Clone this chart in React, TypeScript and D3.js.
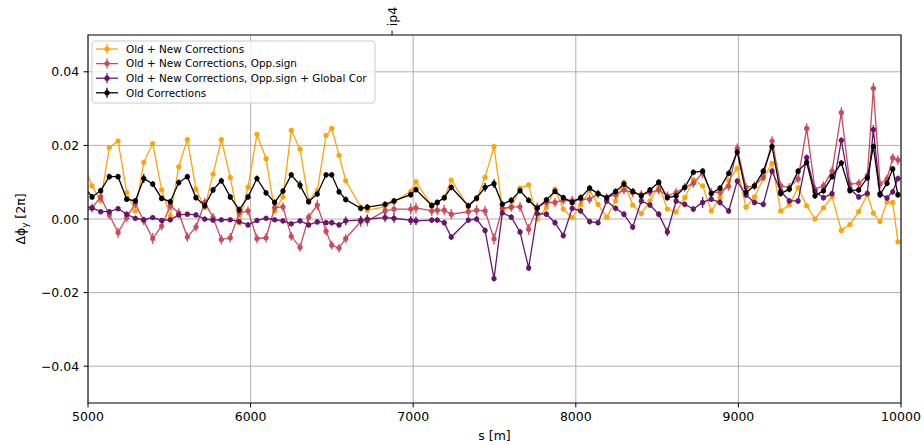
import React from 'react';
import * as d3 from 'd3';

// BPM longitudinal positions [m]
const S = [
  4972, 5025, 5078, 5131, 5185, 5238, 5291, 5343, 5398, 5453,
  5506, 5558, 5611, 5664, 5718, 5769, 5820, 5875, 5930, 5984,
  6039, 6095, 6148, 6199, 6250, 6304, 6357, 6410, 6464, 6499,
  6544, 6585, 6677, 6718, 6827, 6882, 6985, 7017, 7114, 7148,
  7191, 7234, 7339, 7390, 7442, 7497, 7548, 7603, 7657, 7710,
  7763, 7819, 7872, 7923, 7978, 8030, 8085, 8137, 8190, 8245,
  8296, 8350, 8403, 8456, 8510, 8563, 8617, 8670, 8723, 8780,
  8833, 8887, 8940, 8993, 9047, 9099, 9153, 9207, 9260, 9313,
  9367, 9420, 9471, 9523, 9576, 9633, 9686, 9740, 9793, 9830,
  9871, 9914, 9949, 9981,
];

const ORANGE_VALUES = [
  0.015, 0.009, 0.0049, 0.0194, 0.0212, 0.0072, 0.0022, 0.0154, 0.0205, 0.0079,
  0.0008, 0.0142, 0.0216, 0.0081, 0.0031, 0.0122, 0.0216, 0.0113, -0.001, 0.0086,
  0.023, 0.0164, 0.0022, 0.006, 0.0241, 0.019, 0.0049, 0.0077, 0.0227, 0.0246,
  0.0173, 0.0104, 0.0033, 0.0024, 0.0033, 0.0047, 0.0075, 0.0101, 0.0036, 0.0045,
  0.0057, 0.0106, 0.0033, 0.0054, 0.0113, 0.0197, 0.0027, 0.0031, 0.0084, 0.0093,
  0.0, 0.0031, 0.0081, 0.0027, 0.0004, 0.0038, 0.0077, 0.004, 0.0005, 0.0049,
  0.01, 0.0038, 0.0015, 0.0049, 0.009, 0.0027, 0.0019, 0.0058, 0.0107, 0.009,
  0.0022, 0.0058, 0.0105, 0.0137, 0.0032, 0.006, 0.011, 0.0151, 0.0022, 0.0038,
  0.0085, 0.0036, 0.0, 0.003, 0.006, -0.0031, -0.0015, 0.002, 0.0066, 0.0016,
  -0.0007, 0.0046, 0.0045, -0.0062,
];
const ORANGE_ERR = [
  0.0005, 0.0005, 0.0005, 0.0005, 0.0005, 0.0005, 0.0005, 0.0006, 0.0005, 0.0005,
  0.0005, 0.0005, 0.0005, 0.0005, 0.0005, 0.0005, 0.0005, 0.0005, 0.0005, 0.0005,
  0.0005, 0.0005, 0.0005, 0.0005, 0.0005, 0.0005, 0.0005, 0.0005, 0.0005, 0.0005,
  0.0005, 0.0005, 0.0006, 0.0006, 0.0006, 0.0006, 0.0006, 0.0006, 0.0006, 0.0006,
  0.0006, 0.0006, 0.0005, 0.0005, 0.0005, 0.0006, 0.0005, 0.0005, 0.0005, 0.0005,
  0.0005, 0.0005, 0.0005, 0.0005, 0.0005, 0.0005, 0.0005, 0.0005, 0.0005, 0.0005,
  0.0005, 0.0005, 0.0005, 0.0005, 0.0005, 0.0005, 0.0005, 0.0005, 0.0005, 0.0005,
  0.0005, 0.0005, 0.0005, 0.0005, 0.0005, 0.0005, 0.0005, 0.0005, 0.0005, 0.0005,
  0.0005, 0.0005, 0.0005, 0.0005, 0.0005, 0.0005, 0.0005, 0.0005, 0.0005, 0.0005,
  0.0005, 0.0005, 0.0005, 0.0005,
];

const RED_VALUES = [
  0.002, 0.003, 0.006, 0.0011, -0.0037, 0.0004, 0.0042, -0.0005, -0.0053, -0.0019,
  0.0036, 0.0017, -0.0049, -0.0022, 0.0045, 0.0004, -0.0056, -0.0051, 0.0017, 0.0022,
  -0.0053, -0.0051, 0.0031, 0.0033, -0.0047, -0.0077, 0.0005, 0.0038, -0.0033, -0.0071,
  -0.0079, -0.0053, -0.0007, -0.0005, 0.0022, 0.0027, 0.0027, 0.003, 0.0022, 0.0024,
  0.0024, 0.0013, 0.002, 0.0024, 0.0022, -0.0054, 0.0029, 0.0033, 0.0033, -0.0028,
  0.0033, 0.0045, 0.0045, 0.0051, 0.0051, 0.0054, 0.0054, 0.0068, 0.0058, 0.0066,
  0.0079, 0.0072, 0.0066, 0.0072, 0.0079, 0.0063, 0.0072, 0.0086, 0.0097, 0.0125,
  0.0072, 0.0073, 0.0089, 0.0192, 0.0086, 0.009, 0.0115, 0.0212, 0.009, 0.0086,
  0.0109, 0.0246, 0.0081, 0.009, 0.013, 0.0289, 0.0095, 0.0097, 0.0118, 0.0355,
  0.0095, 0.0109, 0.0166, 0.016,
];
const RED_ERR = [
  0.0012, 0.0012, 0.0012, 0.0012, 0.0014, 0.0012, 0.0012, 0.0012, 0.0015, 0.0012,
  0.0012, 0.0012, 0.0013, 0.0012, 0.0012, 0.0012, 0.0013, 0.0013, 0.0012, 0.0012,
  0.0013, 0.0013, 0.0012, 0.0012, 0.0012, 0.0012, 0.0012, 0.0014, 0.0012, 0.0012,
  0.0012, 0.0012, 0.0015, 0.0015, 0.0015, 0.0015, 0.0015, 0.0015, 0.0014, 0.0014,
  0.0014, 0.0014, 0.0014, 0.0014, 0.0014, 0.0015, 0.0013, 0.0013, 0.0013, 0.0015,
  0.0012, 0.0012, 0.0012, 0.0012, 0.0012, 0.0013, 0.0013, 0.0012, 0.0012, 0.0012,
  0.0012, 0.0012, 0.0012, 0.0012, 0.0012, 0.0012, 0.0012, 0.0012, 0.0012, 0.0014,
  0.0012, 0.0012, 0.0012, 0.0013, 0.0012, 0.0012, 0.0012, 0.0013, 0.0012, 0.0012,
  0.0012, 0.0014, 0.0012, 0.0012, 0.0012, 0.0015, 0.0012, 0.0012, 0.0012, 0.0015,
  0.0012, 0.0012, 0.0013, 0.0013,
];

const PURPLE_VALUES = [
  0.0035, 0.003, 0.002, 0.002, 0.0028, 0.0013, 0.0002, -0.0002, 0.0004, -0.0004,
  -0.0002, 0.0011, 0.0013, 0.0011, 0.0, -0.0003, -0.0002, -0.0002, -0.0007, -0.0016,
  -0.0004, 0.0002, -0.0002, -0.0005, -0.0013, -0.0005, -0.0016, -0.0008, -0.001, -0.001,
  -0.0016, -0.0005, -0.0003, 0.0, 0.0004, 0.0002, -0.0004, -0.0005, -0.0003, -0.0003,
  -0.001, -0.0049, -0.0003, 0.0, -0.0031, -0.0162, 0.0017, 0.0005, -0.0035, -0.0133,
  0.0015, 0.0013, -0.001, -0.0045, 0.0029, 0.0022, -0.0007, -0.001, 0.0049, 0.0029,
  0.0013, -0.0022, 0.0049, 0.0038, 0.0013, -0.0035, 0.0049, 0.004, 0.0027, 0.0045,
  0.0054, 0.0045, 0.0022, 0.0103, 0.0065, 0.0045, 0.004, 0.013, 0.0076, 0.0049,
  0.0049, 0.0167, 0.0075, 0.0058, 0.0069, 0.0214, 0.0082, 0.006, 0.007, 0.0243,
  0.0069, 0.0057, 0.0074, 0.011,
];
const PURPLE_ERR = [
  0.0007, 0.0007, 0.0007, 0.0007, 0.0007, 0.0007, 0.0007, 0.0007, 0.0007, 0.0007,
  0.0007, 0.0007, 0.0007, 0.0007, 0.0007, 0.0007, 0.0007, 0.0007, 0.0007, 0.0007,
  0.0007, 0.0007, 0.0007, 0.0007, 0.0007, 0.0007, 0.0007, 0.0007, 0.0007, 0.0007,
  0.0007, 0.0012, 0.0012, 0.0012, 0.0012, 0.0012, 0.0012, 0.0012, 0.0008, 0.0008,
  0.0008, 0.0008, 0.0008, 0.0008, 0.0008, 0.0008, 0.0008, 0.0008, 0.0008, 0.0008,
  0.0008, 0.0008, 0.0008, 0.0008, 0.0008, 0.0008, 0.0008, 0.0008, 0.0008, 0.0008,
  0.0008, 0.0008, 0.0008, 0.0008, 0.0008, 0.0012, 0.0008, 0.0008, 0.0008, 0.0015,
  0.0008, 0.0008, 0.0008, 0.0008, 0.0008, 0.0008, 0.0008, 0.0008, 0.0008, 0.0008,
  0.0008, 0.0008, 0.0008, 0.0008, 0.0008, 0.0008, 0.0008, 0.0008, 0.0008, 0.0012,
  0.0008, 0.0008, 0.0008, 0.0008,
];

const BLACK_VALUES = [
  0.009, 0.006, 0.0077, 0.0115, 0.0115, 0.0054, 0.0049, 0.011, 0.0095, 0.0056,
  0.0047, 0.0099, 0.0115, 0.0058, 0.0036, 0.0079, 0.0104, 0.006, 0.0025, 0.006,
  0.011, 0.0071, 0.0045, 0.0076, 0.012, 0.0092, 0.0047, 0.0068, 0.012, 0.012,
  0.0074, 0.0053, 0.0029, 0.0032, 0.004, 0.0049, 0.0066, 0.008, 0.0037, 0.0045,
  0.0058, 0.0086, 0.0036, 0.0057, 0.0086, 0.0096, 0.004, 0.0051, 0.0077, 0.0051,
  0.0029, 0.0052, 0.0075, 0.0058, 0.0045, 0.0058, 0.0084, 0.0069, 0.0058, 0.0075,
  0.0095, 0.0075, 0.0063, 0.0079, 0.01, 0.0058, 0.0063, 0.0086, 0.0127, 0.013,
  0.0069, 0.0084, 0.0124, 0.0182, 0.0072, 0.009, 0.013, 0.0197, 0.0069, 0.0081,
  0.013, 0.0154, 0.0063, 0.0077, 0.0115, 0.0152, 0.0077, 0.0079, 0.0112, 0.0197,
  0.0066, 0.0097, 0.0136, 0.0066,
];
const BLACK_ERR = [
  0.0008, 0.0008, 0.0008, 0.0008, 0.0008, 0.0008, 0.0008, 0.0012, 0.0008, 0.0008,
  0.0008, 0.0008, 0.0008, 0.0008, 0.0008, 0.0008, 0.0008, 0.0008, 0.0008, 0.0008,
  0.0008, 0.0008, 0.0008, 0.0008, 0.0008, 0.0012, 0.0008, 0.0008, 0.0008, 0.0008,
  0.0008, 0.0008, 0.0008, 0.0008, 0.0008, 0.0008, 0.0008, 0.0008, 0.0008, 0.0008,
  0.0008, 0.0008, 0.0008, 0.0008, 0.0012, 0.0012, 0.0008, 0.0008, 0.0008, 0.0008,
  0.0008, 0.0008, 0.0008, 0.0008, 0.0008, 0.0008, 0.0008, 0.0008, 0.0008, 0.0008,
  0.0008, 0.0008, 0.0008, 0.0008, 0.0008, 0.0008, 0.0008, 0.0008, 0.0008, 0.0008,
  0.0008, 0.0008, 0.0008, 0.0008, 0.0008, 0.0008, 0.0008, 0.0008, 0.0008, 0.0008,
  0.0008, 0.0008, 0.0008, 0.0008, 0.0008, 0.0008, 0.0008, 0.0008, 0.0008, 0.0008,
  0.0008, 0.0008, 0.0008, 0.0008,
];

const SERIES_NAMES = [
  'Old + New Corrections',
  'Old + New Corrections, Opp.sign',
  'Old + New Corrections, Opp.sign + Global Cor',
  'Old Corrections',
];
const SERIES_VALUES = [ORANGE_VALUES, RED_VALUES, PURPLE_VALUES, BLACK_VALUES];
const SERIES_ERRORS = [ORANGE_ERR, RED_ERR, PURPLE_ERR, BLACK_ERR];
const SERIES_COLORS = ['#fca50a', '#c63c4f', '#67166e', '#000004'];
const SERIES_OPACITY = [1, 0.92, 1, 1];

const X_TICKS = [5000, 6000, 7000, 8000, 9000, 10000];
const Y_TICKS = [-0.04, -0.02, 0.0, 0.02, 0.04];
const TOP_TICK_LABELS = ['ip4'];
const TOP_TICK_POS = [6870];

const FONT = 'DejaVu Sans, sans-serif';

export default function App() {
  const W = 924;
  const H = 445;
  const L = 88, R = 901, T = 35, B = 403;
  const x = d3.scaleLinear().domain([5000, 10000]).range([L, R]);
  const y = d3.scaleLinear().domain([-0.05, 0.05]).range([B, T]);
  const fmtY = (v: number) => d3.format('.2f')(v).replace('-', '\u2212');
  const grid = '#b0b0b0';
  const tickLen = 4.4;
  const fs = 12.5;
  const legendFs = 10.4;

  const lineGen = (vals: number[]) =>
    d3.line<number>().x((_, i) => x(S[i])).y((d) => y(d))(vals) || '';

  const legendX = 92, legendY = 41, legendW = 283, legendH = 62;
  const rowY = (i: number) => 49 + i * 14.6;

  return (
    <div style={{ position: 'absolute', left: 0, top: 0 }}>
      <svg width={W} height={H} style={{ display: 'block', background: '#fff' }} fontFamily={FONT}>
        <defs>
          <clipPath id="plotclip">
            <rect x={L} y={T} width={R - L} height={B - T} />
          </clipPath>
        </defs>
        <rect x={0} y={0} width={W} height={H} fill="#fff" />
        {/* grid */}
        {X_TICKS.map((t) => (
          <line key={'gx' + t} x1={x(t)} x2={x(t)} y1={T} y2={B} stroke={grid} strokeWidth={1} />
        ))}
        {Y_TICKS.map((t) => (
          <line key={'gy' + t} x1={L} x2={R} y1={y(t)} y2={y(t)} stroke={grid} strokeWidth={1} />
        ))}
        {/* data */}
        <g clipPath="url(#plotclip)">
          {SERIES_VALUES.map((vals, si) => (
            <g key={'s' + si} opacity={SERIES_OPACITY[si]}>
              <path d={lineGen(vals)} fill="none" stroke={SERIES_COLORS[si]} strokeWidth={1.3} />
              {vals.map((v, i) => (
                <line
                  key={'e' + i}
                  x1={x(S[i])}
                  x2={x(S[i])}
                  y1={y(v - SERIES_ERRORS[si][i])}
                  y2={y(v + SERIES_ERRORS[si][i])}
                  stroke={SERIES_COLORS[si]}
                  strokeWidth={1.3}
                />
              ))}
              {vals.map((v, i) => (
                <circle key={'m' + i} cx={x(S[i])} cy={y(v)} r={2.6} fill={SERIES_COLORS[si]} />
              ))}
            </g>
          ))}
        </g>
        {/* spines */}
        <rect x={L} y={T} width={R - L} height={B - T} fill="none" stroke="#000" strokeWidth={1} />
        {/* x ticks */}
        {X_TICKS.map((t) => (
          <g key={'xt' + t}>
            <line x1={x(t)} x2={x(t)} y1={B} y2={B + tickLen} stroke="#000" strokeWidth={1} />
            <text x={x(t)} y={B + tickLen + 4.4 + fs * 0.76} fontSize={fs} textAnchor="middle" fill="#000">
              {t}
            </text>
          </g>
        ))}
        {/* y ticks */}
        {Y_TICKS.map((t) => (
          <g key={'yt' + t}>
            <line x1={L - tickLen} x2={L} y1={y(t)} y2={y(t)} stroke="#000" strokeWidth={1} />
            <text x={L - tickLen - 4.4} y={y(t)} dy="0.36em" fontSize={fs} textAnchor="end" fill="#000">
              {fmtY(t)}
            </text>
          </g>
        ))}
        {/* top ticks */}
        {TOP_TICK_POS.map((p, i) => (
          <g key={'tt' + i}>
            <line x1={x(p)} x2={x(p)} y1={T} y2={T - tickLen} stroke="#000" strokeWidth={1} />
            <text
              transform={`translate(${x(p) + 0.36 * fs},${T - tickLen - 4.4}) rotate(-90)`}
              fontSize={fs}
              textAnchor="start"
              fill="#000"
            >
              {TOP_TICK_LABELS[i]}
            </text>
          </g>
        ))}
        {/* axis labels */}
        <text x={(L + R) / 2} y={440} fontSize={fs} textAnchor="middle" fill="#000">
          s [m]
        </text>
        <text transform={`translate(${25},${(T + B) / 2}) rotate(-90)`} fontSize={fs} textAnchor="middle" fill="#000">
          <tspan>Δϕ</tspan>
          <tspan dy={3} fontSize={fs * 0.7}>y</tspan>
          <tspan dy={-3}> [2π]</tspan>
        </text>
        {/* legend */}
        <rect
          x={legendX}
          y={legendY}
          width={legendW}
          height={legendH}
          rx={3}
          fill="#fff"
          fillOpacity={0.8}
          stroke="#cccccc"
          strokeWidth={1}
        />
        {SERIES_NAMES.map((name, i) => (
          <g key={'lg' + i}>
            <g opacity={SERIES_OPACITY[i]}>
              <line x1={96} x2={118} y1={rowY(i)} y2={rowY(i)} stroke={SERIES_COLORS[i]} strokeWidth={1.3} />
              <line x1={107} x2={107} y1={rowY(i) - 5} y2={rowY(i) + 5} stroke={SERIES_COLORS[i]} strokeWidth={1.3} />
              <circle cx={107} cy={rowY(i)} r={2.6} fill={SERIES_COLORS[i]} />
            </g>
            <text x={126} y={rowY(i)} dy="0.36em" fontSize={legendFs} fill="#000">
              {name}
            </text>
          </g>
        ))}
      </svg>
    </div>
  );
}
